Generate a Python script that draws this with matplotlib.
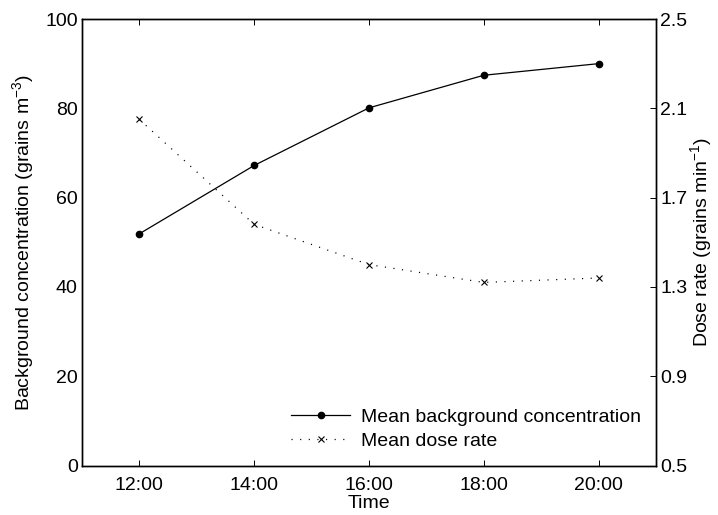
import matplotlib.pyplot as plt
import numpy as np

plt.rcParams['font.family'] = ['Liberation Sans', 'DejaVu Sans']
plt.rcParams['mathtext.fontset'] = 'custom'
plt.rcParams['mathtext.rm'] = 'Liberation Sans'

times = ['12:00', '14:00', '16:00', '18:00', '20:00']
background = [51.9, 67.2, 80.1, 87.4, 90.0]
dose_rate = [2.05, 1.58, 1.40, 1.32, 1.34]

x = np.arange(len(times))

fig = plt.figure(figsize=(7.18, 5.15), dpi=100)
ax = fig.add_axes([82 / 718, 1 - 465.5 / 515, 574 / 718, 446.5 / 515])
ax2 = ax.twinx()

l1, = ax.plot(x, background, '-', color='black', lw=0.9, marker='o', ms=4.5,
              label='Mean background concentration')
l2, = ax2.plot(x, dose_rate, color='black', lw=0.9, ls=(0, (0.9, 6)),
               marker='x', ms=4.5, mew=0.8, label='Mean dose rate')

ax.set_xlim(-0.5, 4.5)
ax.set_ylim(0, 100)
ax.set_yticks([0, 20, 40, 60, 80, 100])
ax2.set_ylim(0.5, 2.5)
ax2.set_yticks([0.5, 0.9, 1.3, 1.7, 2.1, 2.5])
ax2.set_yticklabels(['0.5', '0.9', '1.3', '1.7', '2.1', '2.5'])
ax.set_xticks(x)
ax.set_xticklabels(times)

fs = 14
ax.tick_params(axis='both', direction='in', top=True, labelsize=fs, length=4, width=0.7)
ax.tick_params(axis='x', pad=8)
ax.tick_params(axis='y', left=False, pad=3)
ax2.tick_params(axis='y', direction='in', labelsize=fs, length=4, width=0.7, pad=3)
for a in (ax, ax2):
    for s in a.spines.values():
        s.set_linewidth(1.0)

ax.set_xlabel('Time', fontsize=fs, labelpad=1)
ax.set_ylabel('Background concentration (grains m$^{-3}$)', fontsize=fs, labelpad=6)
ax2.set_ylabel('Dose rate (grains min$^{-1}$)', fontsize=fs, labelpad=1)

ax.legend(handles=[l1, l2], loc='lower right', frameon=False, fontsize=fs,
          bbox_to_anchor=(1.005, -0.005), handlelength=3.0, handletextpad=0.6,
          labelspacing=0.35)

fig.savefig('out.png', dpi=100)
